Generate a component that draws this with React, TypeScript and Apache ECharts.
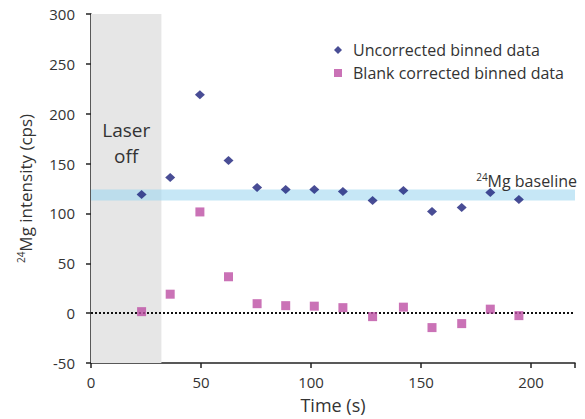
import React, { useEffect, useRef } from "react";
import * as echarts from "echarts";

const times = [23, 36, 49.5, 62.5, 75.5, 88.5, 101.5, 114.5, 128, 142, 155, 168.5, 181.5, 194.5];
const uncorrected = [119, 136, 219, 153, 126, 124, 124, 122, 113, 123, 102, 106, 121, 114];
const blankCorrected = [1.5, 19, 101.5, 36.5, 9.5, 7.5, 7, 5.5, -3.5, 6, -14.5, -10.5, 4, -2.5];
const laserOff = [0, 32];
const baselineBand = [113, 124];
const xTicks = { min: 0, max: 220, interval: 50 };
const yTicks = { min: -50, max: 300, interval: 50 };

const FONT = "'Open Sans', Lato, sans-serif";

export default function App() {
  const ref = useRef<HTMLDivElement>(null);
  useEffect(() => {
    if (!ref.current) return;
    const chart = echarts.init(ref.current, undefined, { renderer: "svg" });
    const navy = "#1c217a";
    const magenta = "#bd4fa4";
    chart.setOption({
      animation: false,
      textStyle: { fontFamily: FONT },
      grid: { left: 91, top: 14, right: 10, bottom: 56 },
      legend: {
        orient: "vertical",
        left: 329,
        top: 37,
        itemGap: 7,
        itemWidth: 8,
        itemHeight: 8,
        textStyle: { fontSize: 16, color: "#333", fontFamily: FONT, padding: [0, 0, 0, 6] },
        data: [
          { name: "Uncorrected binned data", icon: "diamond" },
          { name: "Blank corrected binned data", icon: "rect" },
        ],
      },
      xAxis: {
        type: "value",
        min: xTicks.min,
        max: xTicks.max,
        interval: xTicks.interval,
        name: "Time (s)",
        nameLocation: "middle",
        nameGap: 33,
        nameTextStyle: { fontSize: 18, color: "#333", fontFamily: FONT },
        axisLine: { onZero: false, lineStyle: { color: "#222", width: 1.5 } },
        axisTick: { show: true, length: 5, lineStyle: { color: "#222", width: 1.5 } },
        axisLabel: { fontSize: 15, color: "#333", margin: 11, fontFamily: FONT,
          formatter: (v: number) => (v > 200 ? "" : String(v)) },
        splitLine: { show: false },
      },
      yAxis: {
        type: "value",
        min: yTicks.min,
        max: yTicks.max,
        interval: yTicks.interval,
        name: "{sup|24}{main|Mg intensity (cps)}",
        nameLocation: "middle",
        nameGap: 57,
        nameRotate: 90,
        nameTextStyle: {
          color: "#333",
          fontFamily: FONT,
          rich: {
            main: { fontSize: 17, color: "#333", fontFamily: FONT },
            sup: { fontSize: 10, color: "#333", fontFamily: FONT, verticalAlign: "top", padding: [0, 0, 8, 0] },
          },
        },
        axisLine: { lineStyle: { color: "#222", width: 1.5 } },
        axisTick: { show: true, length: 5, lineStyle: { color: "#222", width: 1.5 } },
        axisLabel: { fontSize: 15, color: "#333", margin: 16, fontFamily: FONT },
        splitLine: { show: false },
      },
      series: [
        {
          name: "Uncorrected binned data",
          type: "scatter",
          symbol: "diamond",
          symbolSize: [10, 9],
          itemStyle: { color: navy },
          data: times.map((t, i) => [t, uncorrected[i]]),
          z: 5,
          markArea: {
            silent: true,
            data: [
              [
                {
                  xAxis: laserOff[0],
                  yAxis: yTicks.max,
                  itemStyle: { color: "#e6e6e6" },
                  label: {
                    show: true,
                    position: "inside",
                    offset: [0, -46],
                    formatter: "Laser\noff",
                    fontSize: 19,
                    lineHeight: 26,
                    color: "#333",
                    fontFamily: FONT,
                  },
                },
                { xAxis: laserOff[1], yAxis: yTicks.min },
              ],
              [
                {
                  yAxis: baselineBand[0],
                  itemStyle: { color: "rgba(160,215,240,0.6)" },
                  label: {
                    show: true,
                    position: "insideTopRight",
                    offset: [7, -22],
                    formatter: "{sup|24}{main|Mg baseline}",
                    rich: {
                      main: { fontSize: 16, color: "#333", fontFamily: FONT },
                      sup: { fontSize: 10, color: "#333", fontFamily: FONT, verticalAlign: "top", padding: [0, 0, 7, 0] },
                    },
                  },
                },
                { yAxis: baselineBand[1] },
              ],
            ],
          },
        },
        {
          name: "Blank corrected binned data",
          type: "scatter",
          symbol: "rect",
          symbolSize: 9,
          itemStyle: { color: magenta },
          data: times.map((t, i) => [t, blankCorrected[i]]),
          z: 5,
          markLine: {
            silent: true,
            symbol: "none",
            label: { show: false },
            lineStyle: { color: "#111", type: [2, 2], width: 2 },
            data: [{ yAxis: 0 }],
          },
        },
      ],
    });
    return () => chart.dispose();
  }, []);
  return <div ref={ref} style={{ width: 585, height: 419, marginTop: -8, marginLeft: -8 }} />;
}
